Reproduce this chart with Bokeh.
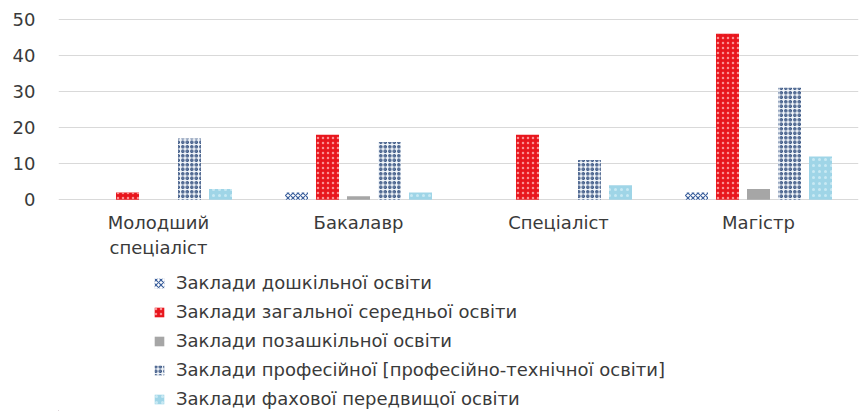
from bokeh.plotting import figure
from bokeh.layouts import column
from bokeh.models import ColumnDataSource, FactorRange, Legend, LegendItem, Range1d
from bokeh.transform import dodge
from bokeh.embed import file_html
from bokeh.resources import INLINE

# Qualification levels (x categories)
categories = ["Молодший\nспеціаліст", "Бакалавр", "Спеціаліст", "Магістр"]

# Counts per type of educational institution
preschool = [0, 2, 0, 2]
general_secondary = [2, 18, 18, 46]
extracurricular = [0, 1, 0, 3]
vocational = [17, 16, 11, 31]
professional_prehigher = [3, 2, 4, 12]

series_labels = [
    "Заклади дошкільної освіти",
    "Заклади загальної середньої освіти",
    "Заклади позашкільної освіти",
    "Заклади професійної [професійно-технічної освіти]",
    "Заклади фахової передвищої освіти",
]
y_ticks = [0, 10, 20, 30, 40, 50]

source = ColumnDataSource(dict(
    cat=categories,
    preschool=preschool,
    general_secondary=general_secondary,
    extracurricular=extracurricular,
    vocational=vocational,
    professional_prehigher=professional_prehigher,
))

FONT = "DejaVu Sans"
TEXT_COLOR = "#3a3a3a"
FONT_SIZE = "18px"

styles = [
    ("preschool", dict(fill_color="#ffffff", hatch_pattern="diagonal_cross",
                       hatch_color="#3b5f9c", hatch_scale=5, hatch_weight=1.2,
                       line_color=None)),
    ("general_secondary", dict(fill_color="#e8161d", hatch_pattern="dot",
                               hatch_color="#ffb0b0", hatch_scale=5, hatch_weight=1.5,
                               hatch_alpha=0.8, line_color=None)),
    ("extracurricular", dict(fill_color="#a6a6a6", line_color=None)),
    ("vocational", dict(fill_color="#f3f7fb", hatch_pattern="ring",
                        hatch_color="#34507f", hatch_scale=4.5, hatch_weight=1.3,
                        line_color=None)),
    ("professional_prehigher", dict(fill_color="#9fd5e7", hatch_pattern="dot",
                                    hatch_color="#d2eef6", hatch_scale=6, hatch_weight=1.5,
                                    hatch_alpha=0.8, line_color=None)),
]

# --- bar chart --------------------------------------------------------------
p = figure(
    x_range=FactorRange(*categories, range_padding=0),
    y_range=(-0.2, 50.2),
    width=859, height=260,
    output_backend="svg", toolbar_location=None,
    min_border_left=58, min_border_right=1, min_border_top=18, min_border_bottom=60,
)

offsets = [-0.31, -0.155, 0.0, 0.155, 0.31]
for (field, st), off in zip(styles, offsets):
    p.vbar(x=dodge("cat", off, range=p.x_range), top=field, width=0.115,
           bottom=0, source=source, **st)

p.yaxis.ticker = y_ticks
p.ygrid.ticker = y_ticks
p.ygrid.grid_line_color = "#d9d9d9"
p.ygrid.grid_line_width = 1
p.xgrid.grid_line_color = None

for ax in (p.xaxis, p.yaxis):
    ax.axis_line_color = None
    ax.major_tick_line_color = None
    ax.minor_tick_line_color = None
    ax.major_label_text_font = FONT
    ax.major_label_text_font_size = FONT_SIZE
    ax.major_label_text_color = TEXT_COLOR
p.yaxis.major_label_standoff = 17
p.xaxis.major_label_standoff = 5

p.outline_line_color = None
p.border_fill_color = "#ffffff"

# --- legend strip underneath ------------------------------------------------
leg_fig = figure(
    width=859, height=151,
    x_range=Range1d(0, 859), y_range=Range1d(0, 151),
    x_axis_location=None, y_axis_location=None,
    output_backend="svg", toolbar_location=None,
    min_border=0, min_border_left=0, min_border_right=0,
    min_border_top=0, min_border_bottom=0,
)
leg_fig.grid.visible = False
leg_fig.outline_line_color = None
leg_fig.border_fill_color = "#ffffff"

# swatch renderers for the legend, kept outside the visible range
legend_items = []
for (field, st), label in zip(styles, series_labels):
    r = leg_fig.vbar(x=[-1000], top=[1], width=1, **st)
    legend_items.append(LegendItem(label=label, renderers=[r]))

# the column aligns this frame with the chart frame above (58 px from the left)
legend = Legend(
    items=legend_items,
    orientation="vertical",
    location=(95, 2),
    label_text_font=FONT, label_text_font_size=FONT_SIZE, label_text_color=TEXT_COLOR,
    glyph_width=12, glyph_height=12, label_height=19, label_standoff=11,
    spacing=8, padding=2, margin=0,
    border_line_color=None, background_fill_alpha=0,
)
leg_fig.add_layout(legend)

layout = column(p, leg_fig, spacing=0)
open("out.html", "w").write(file_html(layout, INLINE))
